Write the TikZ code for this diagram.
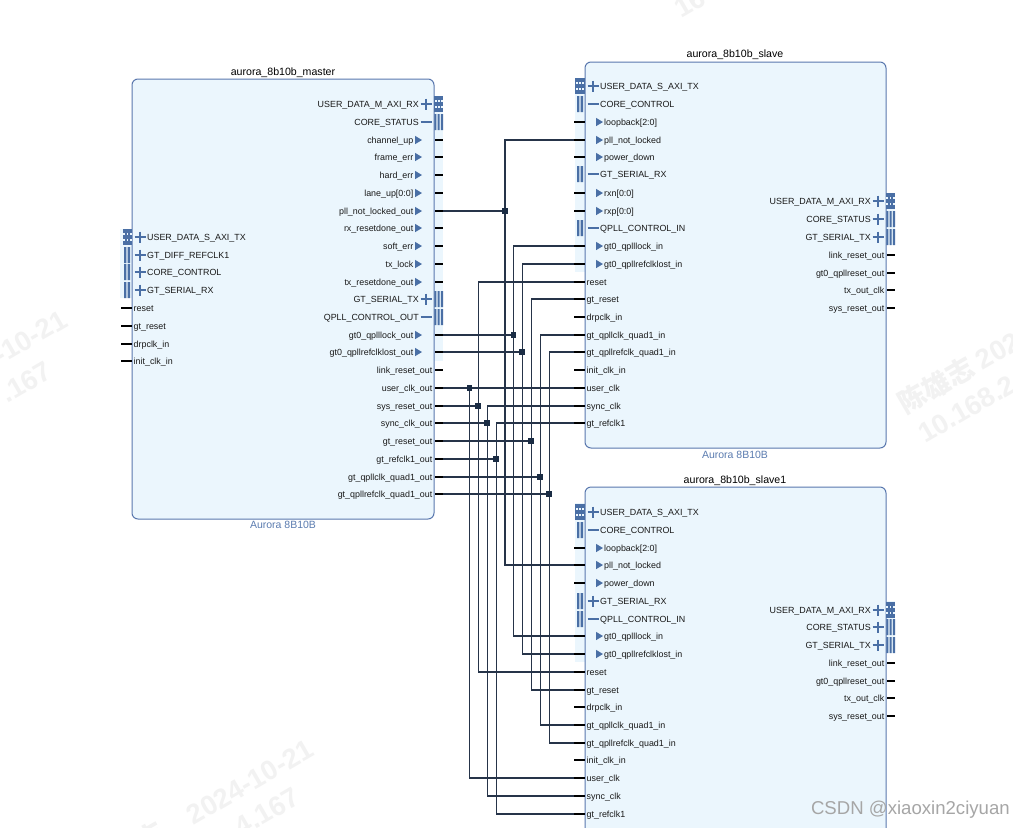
\documentclass[tikz,border=0pt]{standalone}
\usepackage{fontspec}
\setmainfont{Liberation Sans}
\newfontfamily\cjkf{Noto Sans CJK SC}
\definecolor{blockfill}{HTML}{EBF6FD}
\definecolor{blockedge}{HTML}{5A78AE}
\definecolor{iconblue}{HTML}{4A6FA5}
\definecolor{wirecol}{HTML}{263449}
\definecolor{juncol}{HTML}{1A2C44}
\definecolor{captioncol}{HTML}{5B7CB0}
\definecolor{markcol}{HTML}{F2F2F2}
\tikzset{
  ipblock/.style={draw=blockedge,fill=blockfill,line width=1pt,rounded corners=6pt},
  halo/.style={fill=blockfill,draw=none},
  pinlabel/.style={font=\fontsize{8.9}{10}\selectfont,text=black!90,inner sep=0pt,text height=6.6pt,text depth=1.9pt,yshift=-0.8pt},
  blocktitle/.style={font=\fontsize{10.6}{12}\selectfont,text=black,inner sep=0pt,yshift=-1.4pt},
  blockcaption/.style={font=\fontsize{10.5}{12}\selectfont,text=captioncol,inner sep=0pt,yshift=-0.7pt},
  stub/.style={line width=2.4pt,black},
  wire/.style={line width=1.1pt,wirecol},
  junction/.style={fill=juncol,draw=none,minimum size=5.4pt,inner sep=0pt,shape=rectangle},
  busmark/.style={line width=1.8pt,iconblue},
  tri/.style={fill=iconblue,draw=none},
  wmark/.style={font=\bfseries\fontsize{27.5}{30}\selectfont,text=markcol,inner sep=0pt,rotate=30},
}
\newcommand{\LStub}[2]{\draw[stub] (#1-11,#2) -- (#1,#2);}
\newcommand{\RStub}[2]{\draw[stub] (#1+1,#2) -- (#1+9,#2);}
\newcommand{\LBars}[2]{\fill[iconblue] (#1-8,#2-8) rectangle ++(2.4,16.2) (#1-4.4,#2-8) rectangle ++(2.4,16.2);}
\newcommand{\RBars}[2]{\fill[iconblue] (#1+0.3,#2-8) rectangle ++(2.1,16.2) (#1+3.6,#2-8) rectangle ++(2.1,16.2) (#1+6.9,#2-8) rectangle ++(2.1,16.2);}
\newcommand{\AxiIcon}[2]{%
  \fill[iconblue] (#1,#2-8) rectangle ++(9.4,16);
  \foreach \dy in {-4.4,1.6}{\foreach \dx in {0.8,3.9,7}{\fill[blockfill] (#1+\dx,#2+\dy) rectangle ++(1.9,2.4);}}
}
\newcommand{\PlusMark}[2]{\draw[busmark] (#1-5.5,#2) -- (#1+5.5,#2) (#1,#2-5.5) -- (#1,#2+5.5);}
\newcommand{\MinusMark}[2]{\draw[busmark] (#1-5.5,#2) -- (#1+5.5,#2);}
\newcommand{\LPlus}[4]{\PlusMark{#2+8}{#3}\node[pinlabel,anchor=west] (#1) at (#2+15,#3) {#4};}
\newcommand{\LMinus}[4]{\MinusMark{#2+8}{#3}\node[pinlabel,anchor=west] (#1) at (#2+15,#3) {#4};}
\newcommand{\LTri}[4]{\LStub{#2}{#3}\fill[tri] (#2+11,#3-4.2) -- (#2+18,#3) -- (#2+11,#3+4.2) -- cycle;\node[pinlabel,anchor=west] (#1) at (#2+19,#3) {#4};\coordinate (#1p) at (#2-11,#3);}
\newcommand{\LPlain}[4]{\LStub{#2}{#3}\node[pinlabel,anchor=west] (#1) at (#2+1.5,#3) {#4};\coordinate (#1p) at (#2-11,#3);}
\newcommand{\RPlus}[4]{\PlusMark{#2-8}{#3}\node[pinlabel,anchor=east] (#1) at (#2-15,#3) {#4};}
\newcommand{\RMinus}[4]{\MinusMark{#2-8}{#3}\node[pinlabel,anchor=east] (#1) at (#2-15,#3) {#4};}
\newcommand{\RTri}[4]{\RStub{#2}{#3}\fill[tri] (#2-19,#3-4.2) -- (#2-12,#3) -- (#2-19,#3+4.2) -- cycle;\node[pinlabel,anchor=east] (#1) at (#2-20.5,#3) {#4};\coordinate (#1p) at (#2+9,#3);}
\newcommand{\RPlain}[4]{\RStub{#2}{#3}\node[pinlabel,anchor=east] (#1) at (#2-1.5,#3) {#4};\coordinate (#1p) at (#2+9,#3);}
\begin{document}
\begin{tikzpicture}[x=1pt,y=-1pt]
\useasboundingbox (0,0) rectangle (1013,828);
\clip (0,0) rectangle (1013,828);
\fill[white] (0,0) rectangle (1013,828);
% watermarks
\node[wmark] (wm1) at (17,345) {24-10-21};
\node[wmark] (wm2) at (26,382) {.167};
\node[wmark] (wm3) at (250,782) {2024-10-21};
\node[wmark] (wm4) at (267,812) {4.167};
\node[wmark] (wm8) at (150,836) {\cjkf 志};
\node[wmark] (wm5) at (959,372) {\cjkf 陈雄志\ \rmfamily 202};
\node[wmark] (wm6) at (967,409) {10.168.2};
\node[wmark] (wm7) at (690,3) {16};
% pale surrounds for interface pins
\fill[halo] (120,229) rectangle (132,298);
\fill[halo] (434,96) rectangle (443,361);
\fill[halo] (575,78) rectangle (585,272);
\fill[halo] (886,193) rectangle (895,245);
\fill[halo] (575,503) rectangle (585,662);
\fill[halo] (886,601) rectangle (895,653);
% blocks
\node[blocktitle] (tm) at (283,71) {aurora\_8b10b\_master};
\node[blockcaption] (cm) at (283,524) {Aurora 8B10B};
\draw[ipblock] (132,79) rectangle (434,519);
\node[blocktitle] (ts) at (735,53) {aurora\_8b10b\_slave};
\node[blockcaption] (cs) at (735,454) {Aurora 8B10B};
\draw[ipblock] (585,62) rectangle (886,448);
\node[blocktitle] (tt) at (735,479) {aurora\_8b10b\_slave1};
\draw[ipblock] (585,487) rectangle (886,860);
% master left
\AxiIcon{122.6}{237}\LBars{132}{255}\LBars{132}{272}\LBars{132}{290}
\LPlus{ml1}{132}{237}{USER\_DATA\_S\_AXI\_TX}
\LPlus{ml2}{132}{255}{GT\_DIFF\_REFCLK1}
\LPlus{ml3}{132}{272}{CORE\_CONTROL}
\LPlus{ml4}{132}{290}{GT\_SERIAL\_RX}
\LPlain{mreset}{132}{308}{reset}
\LPlain{mgtreset}{132}{326}{gt\_reset}
\LPlain{mdrp}{132}{344}{drpclk\_in}
\LPlain{minit}{132}{361}{init\_clk\_in}
% master right
\AxiIcon{434}{104}\RBars{434}{122}\RBars{434}{299}\RBars{434}{317}
\RPlus{mr1}{434}{104}{USER\_DATA\_M\_AXI\_RX}
\RMinus{mr2}{434}{122}{CORE\_STATUS}
\RTri{mchup}{434}{140}{channel\_up}
\RTri{mframe}{434}{157}{frame\_err}
\RTri{mhard}{434}{175}{hard\_err}
\RTri{mlane}{434}{193}{lane\_up[0:0]}
\RTri{mpll}{434}{211}{pll\_not\_locked\_out}
\RTri{mrxdone}{434}{228}{rx\_resetdone\_out}
\RTri{msoft}{434}{246}{soft\_err}
\RTri{mtxlock}{434}{264}{tx\_lock}
\RTri{mtxdone}{434}{282}{tx\_resetdone\_out}
\RPlus{mr3}{434}{299}{GT\_SERIAL\_TX}
\RMinus{mr4}{434}{317}{QPLL\_CONTROL\_OUT}
\RTri{mqlock}{434}{335}{gt0\_qplllock\_out}
\RTri{mqlost}{434}{352}{gt0\_qpllrefclklost\_out}
\RPlain{mlink}{434}{370}{link\_reset\_out}
\RPlain{muser}{434}{388}{user\_clk\_out}
\RPlain{msys}{434}{406}{sys\_reset\_out}
\RPlain{msync}{434}{423}{sync\_clk\_out}
\RPlain{mgtr}{434}{441}{gt\_reset\_out}
\RPlain{mref}{434}{459}{gt\_refclk1\_out}
\RPlain{mquad}{434}{477}{gt\_qpllclk\_quad1\_out}
\RPlain{mrquad}{434}{494}{gt\_qpllrefclk\_quad1\_out}
% slave left
\AxiIcon{575.4}{86}\LBars{585}{104}\LBars{585}{174}\LBars{585}{228}
\LPlus{sl1}{585}{86}{USER\_DATA\_S\_AXI\_TX}
\LMinus{sl2}{585}{104}{CORE\_CONTROL}
\LTri{sloop}{585}{122}{loopback[2:0]}
\LTri{spll}{585}{140}{pll\_not\_locked}
\LTri{spow}{585}{157}{power\_down}
\LMinus{sl3}{585}{174}{GT\_SERIAL\_RX}
\LTri{srxn}{585}{193}{rxn[0:0]}
\LTri{srxp}{585}{211}{rxp[0:0]}
\LMinus{sl4}{585}{228}{QPLL\_CONTROL\_IN}
\LTri{sqlock}{585}{246}{gt0\_qplllock\_in}
\LTri{sqlost}{585}{264}{gt0\_qpllrefclklost\_in}
\LPlain{sreset}{585}{282}{reset}
\LPlain{sgtr}{585}{299}{gt\_reset}
\LPlain{sdrp}{585}{317}{drpclk\_in}
\LPlain{squad}{585}{335}{gt\_qpllclk\_quad1\_in}
\LPlain{srquad}{585}{352}{gt\_qpllrefclk\_quad1\_in}
\LPlain{sinit}{585}{370}{init\_clk\_in}
\LPlain{suser}{585}{388}{user\_clk}
\LPlain{ssync}{585}{406}{sync\_clk}
\LPlain{sref}{585}{423}{gt\_refclk1}
% slave right
\AxiIcon{885.6}{201}\RBars{886}{219}\RBars{886}{237}
\RPlus{sr1}{886}{201}{USER\_DATA\_M\_AXI\_RX}
\RPlus{sr2}{886}{219}{CORE\_STATUS}
\RPlus{sr3}{886}{237}{GT\_SERIAL\_TX}
\RPlain{sr4}{886}{255}{link\_reset\_out}
\RPlain{sr5}{886}{273}{gt0\_qpllreset\_out}
\RPlain{sr6}{886}{290}{tx\_out\_clk}
\RPlain{sr7}{886}{308}{sys\_reset\_out}
% slave1 left
\AxiIcon{575.4}{512}\LBars{585}{530}\LBars{585}{601}\LBars{585}{619}
\LPlus{tl1}{585}{512}{USER\_DATA\_S\_AXI\_TX}
\LMinus{tl2}{585}{530}{CORE\_CONTROL}
\LTri{tloop}{585}{548}{loopback[2:0]}
\LTri{tpll}{585}{565}{pll\_not\_locked}
\LTri{tpow}{585}{583}{power\_down}
\LPlus{tl3}{585}{601}{GT\_SERIAL\_RX}
\LMinus{tl4}{585}{619}{QPLL\_CONTROL\_IN}
\LTri{tqlock}{585}{636}{gt0\_qplllock\_in}
\LTri{tqlost}{585}{654}{gt0\_qpllrefclklost\_in}
\LPlain{treset}{585}{672}{reset}
\LPlain{tgtr}{585}{690}{gt\_reset}
\LPlain{tdrp}{585}{707}{drpclk\_in}
\LPlain{tquad}{585}{725}{gt\_qpllclk\_quad1\_in}
\LPlain{trquad}{585}{743}{gt\_qpllrefclk\_quad1\_in}
\LPlain{tinit}{585}{760}{init\_clk\_in}
\LPlain{tuser}{585}{778}{user\_clk}
\LPlain{tsync}{585}{796}{sync\_clk}
\LPlain{tref}{585}{814}{gt\_refclk1}
% slave1 right
\AxiIcon{885.6}{610}\RBars{886}{627}\RBars{886}{645}
\RPlus{tr1}{886}{610}{USER\_DATA\_M\_AXI\_RX}
\RPlus{tr2}{886}{627}{CORE\_STATUS}
\RPlus{tr3}{886}{645}{GT\_SERIAL\_TX}
\RPlain{tr4}{886}{663}{link\_reset\_out}
\RPlain{tr5}{886}{681}{gt0\_qpllreset\_out}
\RPlain{tr6}{886}{698}{tx\_out\_clk}
\RPlain{tr7}{886}{716}{sys\_reset\_out}
% junctions
\node[junction] (jpll) at (505,211) {};
\node[junction] (jlock) at (513.5,335) {};
\node[junction] (jlost) at (522.3,352) {};
\node[junction] (juser) at (469.5,388) {};
\node[junction] (jsys) at (478.3,406) {};
\node[junction] (jsync) at (487.3,423) {};
\node[junction] (jgtr) at (531.3,441) {};
\node[junction] (jref) at (496.3,459) {};
\node[junction] (jquad) at (540.3,477) {};
\node[junction] (jrquad) at (549.3,494) {};
% wires
\draw[wire] (mpllp) -- (jpll.center);
\draw[wire] (spllp) -| (jpll.center) |- (tpllp);
\draw[wire] (mqlockp) -- (jlock.center);
\draw[wire] (sqlockp) -| (jlock.center) |- (tqlockp);
\draw[wire] (mqlostp) -- (jlost.center);
\draw[wire] (sqlostp) -| (jlost.center) |- (tqlostp);
\draw[wire] (muserp) -- (juser.center) -- (suserp);
\draw[wire] (juser.center) |- (tuserp);
\draw[wire] (msysp) -- (jsys.center);
\draw[wire] (sresetp) -| (jsys.center) |- (tresetp);
\draw[wire] (msyncp) -- (jsync.center);
\draw[wire] (ssyncp) -| (jsync.center) |- (tsyncp);
\draw[wire] (mgtrp) -- (jgtr.center);
\draw[wire] (sgtrp) -| (jgtr.center) |- (tgtrp);
\draw[wire] (mrefp) -- (jref.center);
\draw[wire] (srefp) -| (jref.center) |- (trefp);
\draw[wire] (mquadp) -- (jquad.center);
\draw[wire] (squadp) -| (jquad.center) |- (tquadp);
\draw[wire] (mrquadp) -- (jrquad.center);
\draw[wire] (srquadp) -| (jrquad.center) |- (trquadp);
% junctions on top
\foreach \jn in {jpll,jlock,jlost,juser,jsys,jsync,jgtr,jref,jquad,jrquad}{
  \fill[juncol] (\jn.south west) rectangle (\jn.north east);
}
% site mark
\node[font=\fontsize{18.6}{20}\selectfont,text=black!35,anchor=east,inner sep=0pt] (csdn) at (1010,810) {CSDN @xiaoxin2ciyuan};
\end{tikzpicture}
\end{document}
